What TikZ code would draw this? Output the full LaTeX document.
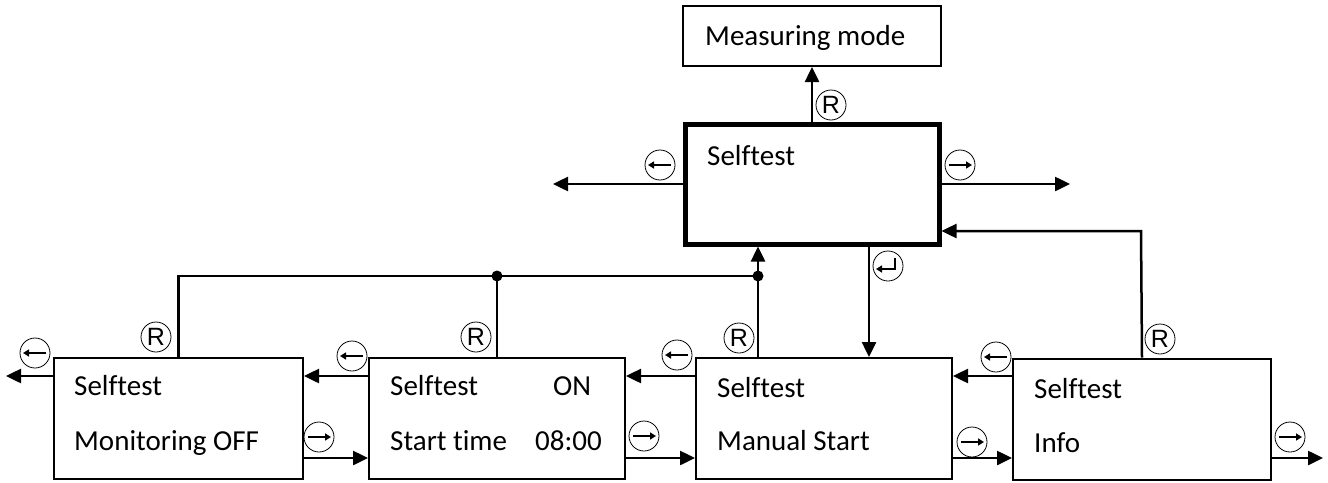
\documentclass[tikz,border=0pt]{standalone}
\usepackage{fontspec}
\setmainfont{Carlito}[Ligatures=NoCommon]
\newfontfamily\rfont{Liberation Sans}
\usetikzlibrary{arrows.meta,calc}
\begin{document}
\begin{tikzpicture}[x=1pt,y=-1pt,
  box/.style={draw,line width=2pt,rectangle,inner sep=0pt},
  lbl/.style={anchor=base west,inner sep=0pt,font=\fontsize{29}{34}\selectfont},
  conn/.style={line width=2.5pt},
  arr/.style={conn,-{Triangle[length=15pt,width=14pt]}},
  sym/.style={draw,circle,line width=0.8pt,minimum size=30pt,inner sep=0pt},
  symtip/.style={line width=1.8pt,-{Triangle[length=6pt,width=7pt]}},
  symL/.style={sym,path picture={\draw[symtip] ($(path picture bounding box.center)+(11,0)$) -- ++(-23,0);}},
  symR/.style={sym,path picture={\draw[symtip] ($(path picture bounding box.center)+(-11,0)$) -- ++(23,0);}},
  symE/.style={sym,path picture={\draw[symtip] ($(path picture bounding box.center)+(7,-8)$) -- ++(0,11) -- ++(-19,0);}},
  symS/.style={sym,font=\rfont\fontsize{25}{25}\selectfont},
  dot/.style={circle,fill,inner sep=0pt,minimum size=11pt}
]
\useasboundingbox (0,0) rectangle (1328,482);

% boxes
\node[box,minimum width=258pt,minimum height=60pt] (meas) at (812,36) {};
\node[box,line width=5pt,minimum width=254pt,minimum height=120pt] (main) at (812,184) {};
\node[box,minimum width=249pt,minimum height=121pt] (b1) at (178.5,418) {};
\node[box,minimum width=256pt,minimum height=121pt] (b2) at (497,418) {};
\node[box,minimum width=256pt,minimum height=121pt] (b3) at (824,418.5) {};
\node[box,minimum width=258pt,minimum height=121pt] (b4) at (1142,419) {};

% texts
\node[lbl] (tmeas) at (705,45) {Measuring mode};
\node[lbl] (tmain) at (707,165) {Selftest};
\node[lbl] (t1a) at (74,395) {Selftest};
\node[lbl] (t1b) at (74,450) {Monitoring};
\node[lbl] (t1c) at (213,450) {OFF};
\node[lbl] (t2a) at (390,395) {Selftest};
\node[lbl] (t2b) at (553,395) {ON};
\node[lbl] (t2c) at (390,450) {Start time};
\node[lbl] (t2d) at (535,450) {08:00};
\node[lbl] (t3a) at (717,397) {Selftest};
\node[lbl] (t3b) at (717,450) {Manual Start};
\node[lbl] (t4a) at (1034,398) {Selftest};
\node[lbl] (t4b) at (1034,452) {Info};

% coordinates
\coordinate (lout) at (553,184);
\coordinate (rout) at (1070,184);
\coordinate (ret) at (1141,231);
\coordinate (entx) at (869,0);
\coordinate (j1) at (497,276);
\coordinate (j2) at (758,276);
\coordinate (up) at (0,376);
\coordinate (lo) at (0,458);
\coordinate (b1out) at (6,376);
\coordinate (b4out) at (1323,458);

% connectors
\draw[arr] (main.north) -- (meas.south);
\draw[arr] (main.west |- lout) -- (lout);
\draw[arr] (main.east |- rout) -- (rout);
\draw[arr] (b4.north) -- (ret) -- (main.east |- ret);
\draw[arr] (main.south -| entx) -- (b3.north -| entx);
\draw[conn] (b1.north) |- (j1) -- (j2);
\draw[conn] (b2.north) -- (j1);
\draw[arr] (b3.north -| j2) -- (main.south -| j2);
\node[dot] (d1) at (j1) {};
\node[dot] (d2) at (j2) {};

\draw[arr] (b1.west |- up) -- (b1out);
\draw[arr] (b2.west |- up) -- (b1.east |- up);
\draw[arr] (b3.west |- up) -- (b2.east |- up);
\draw[arr] (b4.west |- up) -- (b3.east |- up);
\draw[arr] (b1.east |- lo) -- (b2.west |- lo);
\draw[arr] (b2.east |- lo) -- (b3.west |- lo);
\draw[arr] (b3.east |- lo) -- (b4.west |- lo);
\draw[arr] (b4.east |- lo) -- (b4out);

% key symbols
\node[symS] (r0) at (831,105) {R};
\node[symS] (r1) at (156,337) {R};
\node[symS] (r2) at (476,337) {R};
\node[symS] (r3) at (739,338) {R};
\node[symS] (r4) at (1160,339) {R};
\node[symL] (l0) at (660,165) {};
\node[symL] (l1) at (35,353) {};
\node[symL] (l2) at (352,356) {};
\node[symL] (l3) at (677,355) {};
\node[symL] (l4) at (996,357) {};
\node[symR] (g0) at (960,165) {};
\node[symR] (g1) at (319,437) {};
\node[symR] (g2) at (644,436) {};
\node[symR] (g3) at (972,442) {};
\node[symR] (g4) at (1290,437) {};
\node[symE] (e0) at (888,266) {};
\end{tikzpicture}
\end{document}
